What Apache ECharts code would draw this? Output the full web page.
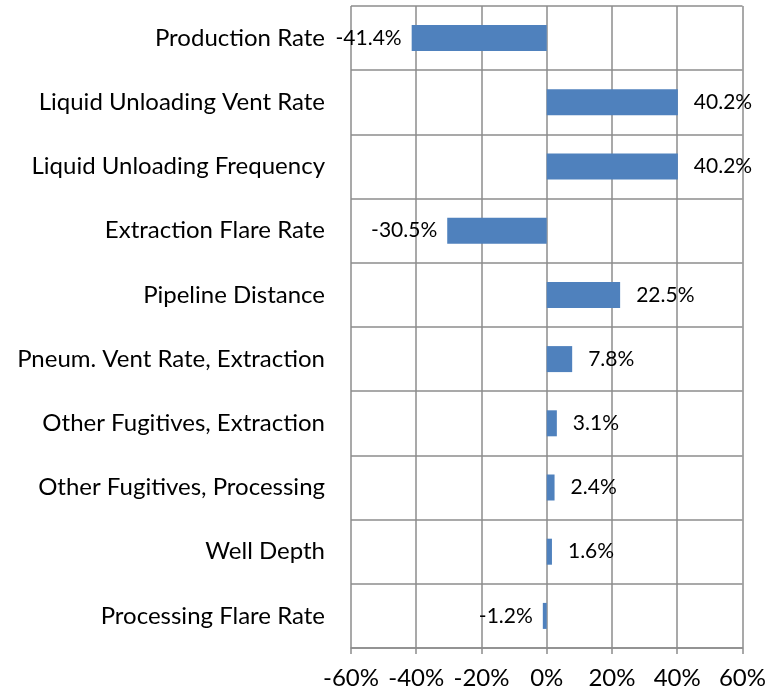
<!DOCTYPE html>
<html>
<head>
<meta charset="utf-8">
<script src="https://cdn.jsdelivr.net/npm/echarts@6/dist/echarts.min.js"></script>
<style>
  html, body { margin: 0; padding: 0; background: #fff; }
  #chart { width: 769px; height: 693px; }
</style>
</head>
<body>
<div id="chart"></div>
<script>
// categories top to bottom
var categories = [
  'Production Rate',
  'Liquid Unloading Vent Rate',
  'Liquid Unloading Frequency',
  'Extraction Flare Rate',
  'Pipeline Distance',
  'Pneum. Vent Rate, Extraction',
  'Other Fugitives, Extraction',
  'Other Fugitives, Processing',
  'Well Depth',
  'Processing Flare Rate'
]
// change in percent
var changes = [-41.4, 40.2, 40.2, -30.5, 22.5, 7.8, 3.1, 2.4, 1.6, -1.2]
var xTicks = [-60, -40, -20, 0, 20, 40, 60]

var gridColor = '#8c8c8c'
var font = 'Lato, "Open Sans", sans-serif'

var chart = echarts.init(document.getElementById('chart'))
chart.setOption({
  animation: false,
  grid: { left: 351, right: 24, top: 6, bottom: 45, containLabel: false },
  xAxis: {
    type: 'value',
    min: xTicks[0],
    max: xTicks[xTicks.length - 1],
    interval: 20,
    axisLine: { show: true, lineStyle: { color: gridColor, width: 1.5 } },
    axisTick: { show: true, length: 6, lineStyle: { color: gridColor, width: 1.5 } },
    axisLabel: {
      color: '#000',
      fontSize: 24,
      fontFamily: font,
      margin: 18,
      formatter: '{value}%'
    },
    splitLine: { show: true, lineStyle: { color: gridColor, width: 1.5 } }
  },
  yAxis: {
    type: 'category',
    data: categories,
    inverse: true,
    axisLine: { show: false, onZero: false },
    axisTick: { show: false },
    axisLabel: {
      color: '#000',
      fontSize: 24,
      fontFamily: font,
      margin: 26
    },
    splitLine: { show: true, lineStyle: { color: gridColor, width: 1.5 } }
  },
  series: [{
    type: 'bar',
    barWidth: 26,
    itemStyle: { color: '#4F81BD' },
    data: changes.map(function(v) {
      return {
        value: v,
        label: {
          show: true,
          position: v < 0 ? 'left' : 'right',
          distance: v < 0 ? 10 : 16,
          color: '#000',
          fontSize: 21,
          fontFamily: font,
          formatter: v.toFixed(1) + '%'
        }
      }
    })
  }]
})
</script>
</body>
</html>
